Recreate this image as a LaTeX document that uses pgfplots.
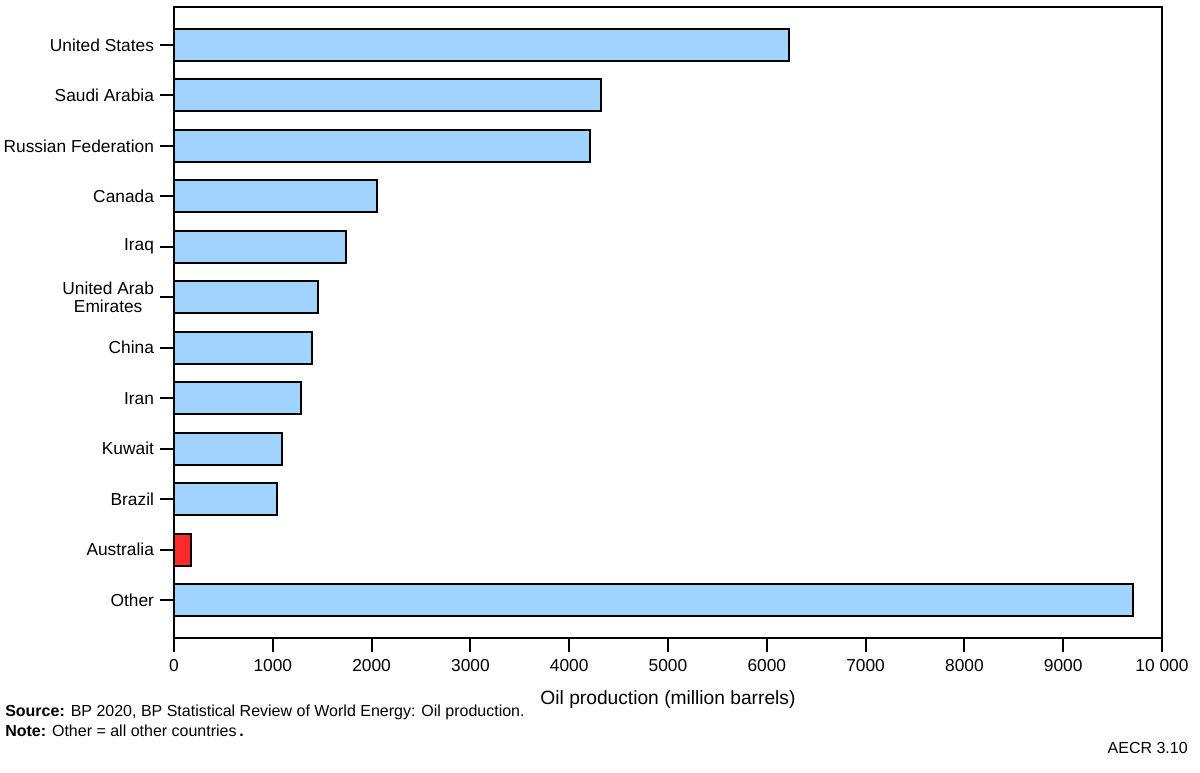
\documentclass[border=0pt]{standalone}
\usepackage{fontspec}
\setmainfont{Liberation Sans}
\usepackage{pgfplots}
\pgfplotsset{compat=1.18}
\definecolor{barblue}{HTML}{A0D4FF}
\definecolor{barred}{HTML}{FF2A2A}
\begin{document}
\begin{tikzpicture}
% picture frame: 1200 x 773 px at 0.75pt per px, axis box bottom-left at origin
\useasboundingbox ({-174*0.75pt},{-135*0.75pt}) rectangle ({1026*0.75pt},{638*0.75pt});
\begin{axis}[
    at={(0,0)}, anchor=south west,
    scale only axis,
    width=741pt, height=473.25pt,
    xbar, bar width=24pt, bar shift=0pt,
    y dir=reverse,
    xmin=0, xmax=10000,
    ymin=-0.75, ymax=11.75,
    scaled x ticks=false,
    xtick={0,1000,...,10000},
    xticklabels={0,1000,2000,3000,4000,5000,6000,7000,8000,9000,{10\ 000}},
    ytick={0,...,11},
    yticklabels={United States,Saudi Arabia,Russian Federation,Canada,Iraq,{United Arab\\Emirates},China,Iran,Kuwait,Brazil,Australia,Other},
    yticklabel style={align=center, font=\fontsize{13}{14}\selectfont, xshift=-1pt},
    xticklabel style={font=\fontsize{13}{15}\selectfont, yshift=-2pt},
    /pgf/number format/assume math mode=true,
    tick align=outside, xtick pos=bottom, ytick pos=left,
    major tick length=10.5pt,
    every tick/.style={black, line width=1.4pt},
    axis line style={line width=1.4pt},
    xlabel={Oil production (million barrels)},
    xlabel style={font=\fontsize{14.4}{17}\selectfont, at={(axis description cs:0.5,0)}, anchor=center, yshift={-62*0.75pt}},
    clip=false,
]
\addplot[fill=barblue, draw=black, line width=1.3pt] coordinates {
    (6225,0) (4325,1) (4211,2) (2055,3) (1741,4) (1457,5) (1397,6) (1285,7) (1093,8) (1046,9) (9710,11)
};
\addplot[fill=barred, draw=black, line width=1.3pt] coordinates {(172,10)};
\end{axis}
\node[anchor=west, font=\fontsize{12}{14}\selectfont, inner sep=0pt] at ({-169*0.75pt},{-74*0.75pt}) {\textbf{Source:} BP 2020, BP Statistical Review of World Energy: Oil production.};
\node[anchor=west, font=\fontsize{12}{14}\selectfont, inner sep=0pt] at ({-169*0.75pt},{-93*0.75pt}) {\textbf{Note:} Other = all other countries\,\textbf{.}};
\node[anchor=east, font=\fontsize{12}{14}\selectfont, inner sep=0pt] at ({1014*0.75pt},{-110*0.75pt}) {AECR 3.10};
\end{tikzpicture}
\end{document}
